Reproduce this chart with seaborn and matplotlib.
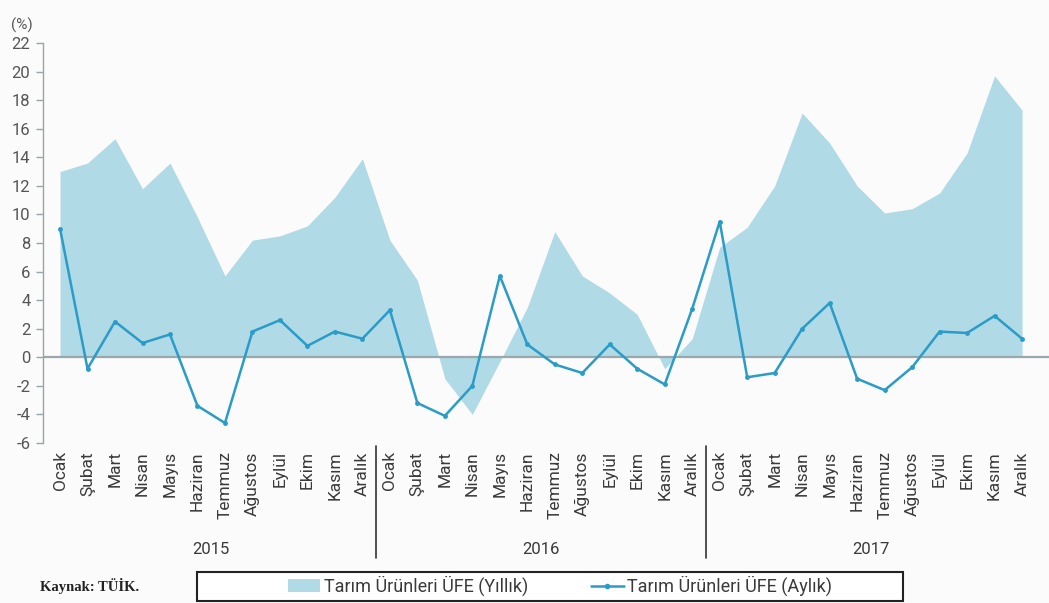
import matplotlib
matplotlib.use("Agg")
import matplotlib.pyplot as plt
import matplotlib.transforms as mtransforms
from matplotlib.lines import Line2D
from matplotlib.patches import Patch, Rectangle
import numpy as np
import pandas as pd
import seaborn as sns


MONTHS = ["Ocak", "Şubat", "Mart", "Nisan", "Mayıs", "Haziran", "Temmuz",
          "Ağustos", "Eylül", "Ekim", "Kasım", "Aralık"]
YEARS = ["2015", "2016", "2017"]

# Tarım Ürünleri ÜFE (Yıllık), %
ANNUAL = [13.0, 13.6, 15.3, 11.8, 13.6, 9.8, 5.7, 8.2, 8.5, 9.2, 11.2, 13.9,
          8.2, 5.4, -1.5, -4.0, -0.3, 3.5, 8.8, 5.7, 4.5, 3.0, -0.8, 1.3,
          7.7, 9.1, 12.0, 17.1, 15.0, 12.0, 10.1, 10.4, 11.5, 14.3, 19.7, 17.3]

# Tarım Ürünleri ÜFE (Aylık), %
MONTHLY = [9.0, -0.8, 2.5, 1.0, 1.6, -3.4, -4.6, 1.8, 2.6, 0.8, 1.8, 1.3,
           3.3, -3.2, -4.1, -2.0, 5.7, 0.9, -0.5, -1.1, 0.9, -0.8, -1.9, 3.4,
           9.5, -1.4, -1.1, 2.0, 3.8, -1.5, -2.3, -0.7, 1.8, 1.7, 2.9, 1.3]

YTICKS = list(range(-6, 23, 2))

AREA_COLOR = "#b1dae7"
LINE_COLOR = "#2a9cc7"
ZERO_COLOR = "#98a8ad"
TEXT_COLOR = "#3a3a3a"


def main():
    sns.set_theme(style="white")
    plt.rcParams["font.family"] = ["Roboto", "DejaVu Sans"]

    df = pd.DataFrame({
        "idx": np.arange(len(MONTHLY)),
        "month": MONTHS * len(YEARS),
        "annual": ANNUAL,
        "monthly": MONTHLY,
    })

    fig = plt.figure(figsize=(10.49, 6.03), dpi=100, facecolor="#fbfbfb")
    ax = fig.add_axes([43 / 1049, 1 - 443 / 603, 1 - 43 / 1049, 400 / 603])
    ax.set_facecolor("#fbfbfb")

    ax.fill_between(df["idx"], 0, df["annual"], color=AREA_COLOR, linewidth=0,
                    label="Tarım Ürünleri ÜFE (Yıllık)")
    ax.axhline(0, color=ZERO_COLOR, linewidth=1.6, zorder=2)
    sns.lineplot(data=df, x="idx", y="monthly", ax=ax, color=LINE_COLOR,
                 linewidth=1.8, marker="o", markersize=3.5, markeredgewidth=0,
                 label="Tarım Ürünleri ÜFE (Aylık)", zorder=3, legend=False)

    ax.set_xlim(-0.62, 35.98)
    ax.set_ylim(-6, 22)
    ax.set_yticks(YTICKS)
    ax.set_yticklabels([str(v) for v in YTICKS], fontsize=12, color="#555555")
    ax.set_xticks(df["idx"])
    ax.set_xticklabels(df["month"], rotation=90, fontsize=12.5, color=TEXT_COLOR,
                       va="top", ha="center")
    ax.tick_params(axis="x", length=0, pad=6)
    ax.tick_params(axis="y", length=5, width=1, color="#9aa5a9", direction="out", pad=4, left=True)
    ax.set_xlabel("")
    ax.set_ylabel("")
    for side in ["top", "right", "bottom"]:
        ax.spines[side].set_visible(False)
    ax.spines["left"].set_color("#9aa5a9")
    ax.spines["left"].set_linewidth(1)

    ax.text(-0.01, 1.045, "(%)", transform=ax.transAxes, ha="right", va="center",
            fontsize=11, color="#555555")

    # year labels and separators below the axis
    trans = mtransforms.blended_transform_factory(ax.transData, fig.transFigure)
    for i, year in enumerate(YEARS):
        ax.text(i * 12 + 5.5, 1 - 549 / 603, year, transform=trans, ha="center",
                va="center", fontsize=12, color=TEXT_COLOR)
    for i in range(1, len(YEARS)):
        fig.add_artist(Line2D([i * 12 - 0.5, i * 12 - 0.5],
                              [1 - 446 / 603, 1 - 558 / 603],
                              transform=trans, color="#333333", linewidth=1.2))

    # legend box
    fig.add_artist(Rectangle((197 / 1049, 1 - 601 / 603), 706 / 1049, 29 / 603,
                             transform=fig.transFigure, facecolor="white",
                             edgecolor="#222222", linewidth=1.5))
    handles = [
        Patch(facecolor=AREA_COLOR, edgecolor="none", label="Tarım Ürünleri ÜFE (Yıllık)"),
        Line2D([], [], color=LINE_COLOR, linewidth=1.8, marker="o", markersize=3,
               label="Tarım Ürünleri ÜFE (Aylık)"),
    ]
    leg = fig.legend(handles=handles, loc="center", ncol=2,
                     bbox_to_anchor=(560 / 1049, 1 - 586 / 603),
                     frameon=False, fontsize=13, handlelength=1.8,
                     handletextpad=0.2, columnspacing=3.5)
    for t in leg.get_texts():
        t.set_color(TEXT_COLOR)

    fig.text(40 / 1049, 1 - 586 / 603, "Kaynak: TÜİK.", fontsize=10.5, fontweight="bold",
             family=["Liberation Serif", "DejaVu Serif"], ha="left", va="center",
             color="#222222")

    fig.savefig("out.png", dpi=100, facecolor=fig.get_facecolor())
    plt.close(fig)


if __name__ == "__main__":
    main()
